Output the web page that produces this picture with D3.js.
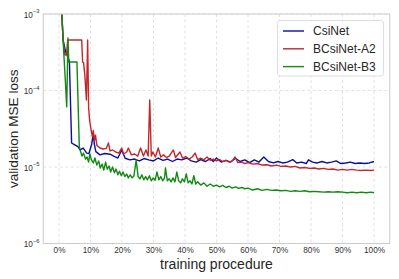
<!DOCTYPE html>
<html>
<head>
<meta charset="utf-8">
<script src="https://cdn.jsdelivr.net/npm/d3@7"></script>
<style>
    body { margin: 0; background: #fff; }
    svg { display: block; font-family: "Liberation Sans", Arial, sans-serif; }
</style>
</head>
<body>
<svg id="chart" width="399" height="279"></svg>
<script>
// ticks
const xTicks = [0, 10, 20, 30, 40, 50, 60, 70, 80, 90, 100];
const yTickExps = [-3, -4, -5, -6];
const seriesNames = ["CsiNet", "BCsiNet-A2", "BCsiNet-B3"];
const seriesColors = ["#0c0c9e", "#c0282c", "#118a11"];

// CsiNet : [progression %, loss]
const csinet = [
    [0, 1.8e-3], [0.9, 1e-3], [1.3, 4.6e-4], [2.1, 3.2e-4], [3.0, 2.6e-4], [3.3, 2.4e-4],
    [4.0, 2.06e-5], [5.0, 1.95e-5], [6.0, 1.85e-5], [6.7, 1.67e-5], [7.7, 1.77e-5], [8.8, 1.52e-5],
    [9.5, 1.5e-5], [10.4, 2.0e-5], [10.9, 2.8e-5], [11.2, 2.0e-5], [11.7, 1.59e-5], [13.0, 1.44e-5],
    [14.5, 1.5e-5], [16.2, 1.47e-5], [17.5, 1.38e-5], [18.7, 1.31e-5], [19.9, 1.67e-5], [21.0, 1.3e-5],
    [22.5, 1.24e-5], [24, 1.27e-5], [25.5, 1.2e-5], [27, 1.29e-5], [28.5, 1.24e-5], [30, 1.2e-5],
    [31.5, 1.31e-5], [33, 1.22e-5], [34.5, 1.27e-5], [36, 1.18e-5], [37.5, 1.27e-5], [39, 1.24e-5],
    [40.5, 1.31e-5], [42, 1.2e-5], [43.5, 1.16e-5], [45, 1.25e-5], [46.5, 1.18e-5], [48, 1.29e-5],
    [49, 1.18e-5], [50, 1.31e-5], [51.5, 1.16e-5], [53, 1.22e-5], [54.5, 1.16e-5], [56, 1.3e-5],
    [57.5, 1.18e-5], [59, 1.24e-5], [60.5, 1.14e-5], [62, 1.24e-5], [63.5, 1.16e-5], [65, 1.35e-5],
    [66.5, 1.18e-5], [68, 1.13e-5], [69.5, 1.18e-5], [71, 1.13e-5], [72.5, 1.16e-5], [74.2, 1.25e-5],
    [75.5, 1.13e-5], [77, 1.16e-5], [78.5, 1.11e-5], [79.2, 1.24e-5], [80.5, 1.16e-5], [82, 1.13e-5],
    [83.5, 1.18e-5], [85, 1.13e-5], [86.5, 1.16e-5], [88, 1.2e-5], [89.5, 1.11e-5], [91, 1.13e-5],
    [92.5, 1.16e-5], [94, 1.11e-5], [95.5, 1.13e-5], [97, 1.11e-5], [98.5, 1.13e-5], [100, 1.18e-5]
];

// BCsiNet-A2
const bcsinetA2 = [
    [0, 1.8e-3], [0.9, 1e-3], [1.3, 4.6e-4], [1.6, 3.6e-4], [1.9, 2.9e-4], [2.4, 3.0e-4],
    [2.75, 4.57e-4], [7.2, 4.57e-4], [7.5, 2.36e-4], [7.8, 2.3e-4], [8.2, 1.6e-4], [8.7, 7.5e-5],
    [9.1, 4.57e-4], [9.4, 6e-5], [9.7, 4.1e-5], [10.2, 3.05e-5], [10.6, 2.5e-5], [10.9, 3.0e-5],
    [11.2, 2.2e-5], [11.6, 2.6e-5], [12, 1.93e-5], [13, 1.77e-5], [14, 1.72e-5], [15, 1.75e-5],
    [15.7, 2.06e-5], [16.2, 1.62e-5], [17, 1.67e-5], [18, 1.57e-5], [19, 1.52e-5], [19.9, 1.77e-5],
    [20.5, 1.48e-5], [21.5, 1.57e-5], [22, 1.77e-5], [23, 1.44e-5], [24, 1.48e-5], [25, 1.39e-5],
    [25.9, 1.77e-5], [26.8, 1.39e-5], [27.6, 1.67e-5], [28.3, 1.39e-5], [28.8, 7.5e-5], [29.3, 1.39e-5],
    [29.8, 1.57e-5], [30.6, 1.35e-5], [31.5, 1.77e-5], [32.3, 1.35e-5], [33.2, 1.44e-5], [34.1, 1.33e-5],
    [35, 1.39e-5], [36.3, 1.67e-5], [37, 1.33e-5], [38.4, 1.57e-5], [39.2, 1.31e-5], [40.2, 1.37e-5],
    [41.3, 1.27e-5], [42.3, 1.35e-5], [43.2, 1.52e-5], [44, 1.25e-5], [45, 1.31e-5], [46, 1.24e-5],
    [47, 1.35e-5], [48, 1.22e-5], [49, 1.27e-5], [50, 1.2e-5], [51, 1.25e-5], [52, 1.18e-5],
    [53, 1.22e-5], [54, 1.16e-5], [55, 1.2e-5], [55.9, 1.35e-5], [56.8, 1.14e-5], [58, 1.16e-5],
    [59, 1.11e-5], [60, 1.14e-5], [61.5, 1.09e-5], [63, 1.11e-5], [64.5, 1.06e-5], [66, 1.07e-5],
    [67.5, 1.03e-5], [69, 1.06e-5], [70.5, 1.02e-5], [72, 1.03e-5], [73.5, 1.0e-5], [75, 1.02e-5],
    [76.5, 9.7e-6], [78, 9.85e-6], [79.5, 9.6e-6], [81, 9.7e-6], [82.5, 9.4e-6], [84, 9.6e-6],
    [85.5, 9.3e-6], [87, 9.4e-6], [88.5, 9.1e-6], [90, 9.3e-6], [91.5, 9.1e-6], [93, 9.3e-6],
    [94.5, 9.1e-6], [96, 9.0e-6], [97.5, 9.1e-6], [99, 9.0e-6], [100, 9.1e-6]
];

// BCsiNet-B3
const bcsinetB3 = [
    [0, 1.8e-3], [0.9, 1e-3], [1.5, 3.2e-4], [2.0, 1.37e-4], [2.45, 6.1e-5], [2.85, 4.85e-4],
    [3.1, 2.36e-4], [5.7, 2.36e-4], [6.44, 1.86e-5], [6.7, 1.67e-5], [7.3, 1.39e-5], [7.8, 1.52e-5],
    [8.4, 1.27e-5], [8.9, 1.35e-5], [9.4, 1.16e-5], [9.8, 1.48e-5], [10.3, 1.24e-5], [10.9, 1.13e-5],
    [11.4, 1.31e-5], [12, 1.06e-5], [12.6, 1.2e-5], [13.1, 9.7e-6], [13.7, 1.09e-5], [14.2, 9.1e-6],
    [14.8, 1.16e-5], [15.3, 9.4e-6], [15.9, 1.03e-5], [16.4, 8.6e-6], [17, 1.0e-5], [17.6, 8.4e-6],
    [18.1, 9.4e-6], [18.7, 7.9e-6], [19.2, 8.8e-6], [19.8, 7.7e-6], [20.3, 8.6e-6], [20.9, 7.5e-6],
    [21.5, 8.1e-6], [22, 7.2e-6], [22.6, 7.9e-6], [23.2, 7.2e-6], [23.8, 7.7e-6], [24.5, 1.24e-5],
    [25.1, 7.5e-6], [25.7, 7.0e-6], [26.3, 7.9e-6], [26.9, 6.8e-6], [27.5, 7.5e-6], [28.1, 6.8e-6],
    [28.7, 7.7e-6], [29.3, 6.6e-6], [29.9, 7.2e-6], [30.5, 6.7e-6], [31.1, 8.6e-6], [31.7, 6.8e-6],
    [32.3, 7.5e-6], [32.9, 6.6e-6], [33.5, 7.2e-6], [33.8, 9.7e-6], [34.4, 6.6e-6], [35, 7.0e-6],
    [35.6, 6.4e-6], [36.2, 7.2e-6], [36.8, 6.4e-6], [37.4, 8.6e-6], [38, 6.6e-6], [38.6, 6.2e-6],
    [39.2, 7.0e-6], [39.8, 6.4e-6], [40.4, 8.1e-6], [41, 6.2e-6], [41.6, 6.6e-6], [42.2, 6.0e-6],
    [42.8, 7.7e-6], [43.4, 6.0e-6], [44, 6.4e-6], [45, 5.8e-6], [46, 6.2e-6], [47, 5.6e-6],
    [48, 6.0e-6], [49, 5.6e-6], [50, 5.8e-6], [51, 5.5e-6], [52, 5.75e-6], [53, 5.4e-6],
    [54, 5.6e-6], [55, 5.3e-6], [56, 5.5e-6], [57, 5.25e-6], [58, 5.4e-6], [59, 5.2e-6],
    [60, 5.3e-6], [61.5, 5.0e-6], [63, 5.2e-6], [64.5, 4.95e-6], [66, 5.1e-6], [67.5, 4.95e-6],
    [69, 5.0e-6], [70.5, 4.9e-6], [72, 4.95e-6], [73.5, 4.8e-6], [75, 4.9e-6], [76.5, 4.8e-6],
    [78, 4.9e-6], [79.5, 4.75e-6], [81, 4.8e-6], [82.5, 4.75e-6], [84, 4.7e-6], [85.5, 4.75e-6],
    [87, 4.7e-6], [88.5, 4.75e-6], [90, 4.7e-6], [91.5, 4.6e-6], [93, 4.7e-6], [94.5, 4.6e-6],
    [96, 4.7e-6], [97.5, 4.6e-6], [99, 4.7e-6], [100, 4.6e-6]
];

const allSeries = [csinet, bcsinetA2, bcsinetB3];

const svg = d3.select("#chart");
const plot = { left: 43.25, right: 389.75, top: 14, bottom: 243.5 };

const x = d3.scaleLinear([-5, 105], [plot.left, plot.right]);
const y = d3.scaleLog([1e-6, 1e-3], [plot.bottom, plot.top]);

svg.append("defs").append("clipPath").attr("id", "clip")
    .append("rect")
    .attr("x", plot.left).attr("y", plot.top)
    .attr("width", plot.right - plot.left).attr("height", plot.bottom - plot.top);

// grille pointillée
let grid = svg.append("g").attr("stroke", "#dadada").attr("stroke-width", 0.8).attr("stroke-dasharray", "3,2.5");
grid.selectAll(".vgrid").data(xTicks).join("line")
    .attr("x1", d => x(d)).attr("x2", d => x(d))
    .attr("y1", plot.top).attr("y2", plot.bottom);
grid.selectAll(".hgrid").data(yTickExps).join("line")
    .attr("x1", plot.left).attr("x2", plot.right)
    .attr("y1", d => y(Math.pow(10, d))).attr("y2", d => y(Math.pow(10, d)));

// axe x
let xAxis = svg.append("g")
    .attr("transform", `translate(0,${plot.bottom})`)
    .call(d3.axisBottom(x).tickValues(xTicks).tickSize(0).tickPadding(4).tickFormat(d => d + "%"));
xAxis.select(".domain").remove();
xAxis.selectAll("text").attr("font-size", 8.2).attr("fill", "#333").attr("font-family", "Liberation Sans, Arial");

// axe y avec exposants
let yAxis = svg.append("g").attr("fill", "#333").attr("font-size", 8.2);
let yLab = yAxis.selectAll("text").data(yTickExps).join("text")
    .attr("x", 39.5)
    .attr("y", d => y(Math.pow(10, d)) + 3.5)
    .attr("text-anchor", "end");
yLab.append("tspan").text("10");
yLab.append("tspan").attr("dy", -4.5).attr("font-size", 5.8).text(d => "\u2212" + Math.abs(d));

// courbes
let line = d3.line().x(d => x(d[0])).y(d => y(d[1]));
svg.append("g").attr("clip-path", "url(#clip)")
    .selectAll("path").data(allSeries).join("path")
    .attr("d", line)
    .attr("fill", "none")
    .attr("stroke", (d, i) => seriesColors[i])
    .attr("stroke-width", 1.4)
    .attr("stroke-linejoin", "round");

// cadre
svg.append("rect")
    .attr("x", plot.left).attr("y", plot.top)
    .attr("width", plot.right - plot.left).attr("height", plot.bottom - plot.top)
    .attr("fill", "none").attr("stroke", "#cccccc").attr("stroke-width", 1);

// légende
let legend = svg.append("g");
legend.append("rect")
    .attr("x", 277.5).attr("y", 20.5).attr("width", 106).attr("height", 55.5).attr("rx", 2.5)
    .attr("fill", "rgba(255,255,255,0.8)").attr("stroke", "#d5d5d5").attr("stroke-width", 0.8);
let entries = legend.selectAll(".entry").data(seriesNames).join("g")
    .attr("transform", (d, i) => `translate(0,${31 + i * 17.8})`);
entries.append("line")
    .attr("x1", 283).attr("x2", 304).attr("y1", 0).attr("y2", 0)
    .attr("stroke", (d, i) => seriesColors[i]).attr("stroke-width", 1.4);
entries.append("text")
    .attr("x", 313).attr("y", 4.3)
    .attr("font-size", 12).attr("fill", "#262626")
    .text(d => d);

// titres des axes
svg.append("text")
    .attr("x", (plot.left + plot.right) / 2).attr("y", 268.5)
    .attr("text-anchor", "middle").attr("font-size", 14).attr("fill", "#262626")
    .text("training procedure");
svg.append("text")
    .attr("transform", `translate(18,${(plot.top + plot.bottom) / 2}) rotate(-90)`)
    .attr("text-anchor", "middle").attr("font-size", 13.6).attr("fill", "#262626")
    .text("validation MSE loss");
</script>
</body>
</html>
